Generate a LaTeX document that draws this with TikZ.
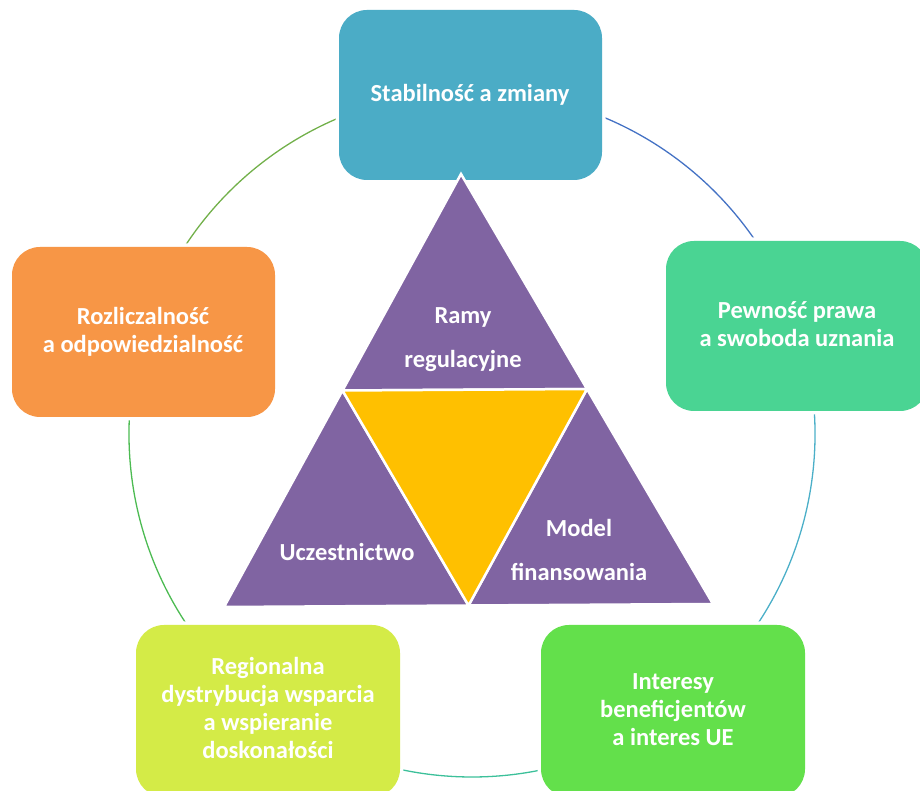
\documentclass[tikz,border=0pt]{standalone}
\usepackage{fontspec}
\usetikzlibrary{calc}
\setmainfont{Carlito}
\definecolor{cTop}{HTML}{4BACC6}
\definecolor{cRight}{HTML}{4AD493}
\definecolor{cBR}{HTML}{63E04B}
\definecolor{cBL}{HTML}{D4EB47}
\definecolor{cLeft}{HTML}{F79646}
\definecolor{cPurple}{HTML}{8064A2}
\definecolor{cYellow}{HTML}{FFC000}
\definecolor{aA}{HTML}{4472C4}
\definecolor{aB}{HTML}{4BAFC8}
\definecolor{aC}{HTML}{3CC09A}
\definecolor{aD}{HTML}{4CBB52}
\definecolor{aE}{HTML}{72B04A}
\tikzset{
  x=1pt, y=1pt,
  boxtxt/.style={text=white, font=\bfseries\fontsize{24.5}{28}\selectfont, align=center},
  tritxt/.style={text=white, font=\bfseries\fontsize{24.5}{28}\selectfont, align=center},
  roundbox/.style={rounded corners=28pt, preaction={draw=white, line width=7pt}},
  tri/.style={draw=white, line width=2.5pt, line join=miter},
  ring/.style={line width=1.3pt},
}
\begin{document}
\begin{tikzpicture}
\useasboundingbox (0,0) rectangle (920,791);
\clip (0,0) rectangle (920,791);
% ring
\coordinate (c) at (472,357);
\def\R{343}
\draw[ring, aA] ($(c)+(90:\R)$) arc[start angle=90, end angle=18, radius=\R];
\draw[ring, aB] ($(c)+(18:\R)$) arc[start angle=18, end angle=-54, radius=\R];
\draw[ring, aC] ($(c)+(-54:\R)$) arc[start angle=-54, end angle=-126, radius=\R];
\draw[ring, aD] ($(c)+(-126:\R)$) arc[start angle=-126, end angle=-198, radius=\R];
\draw[ring, aE] ($(c)+(162:\R)$) arc[start angle=162, end angle=90, radius=\R];
% boxes
\fill[roundbox, cTop] (339,611) rectangle (602,781);
\fill[roundbox, cRight] (666,380) rectangle (928,550);
\fill[roundbox, cBR] (541,-6) rectangle (805,166);
\fill[roundbox, cBL] (136,-6) rectangle (400,166);
\fill[roundbox, cLeft] (12,374) rectangle (275,544);
\node[boxtxt] (top) at (470,696) {Stabilność a zmiany};
\node[boxtxt] (right) at (797,467) {Pewność prawa\\a swoboda uznania};
\node[boxtxt] (bright) at (673,81) {Interesy\\beneficjentów\\a interes UE};
\node[boxtxt] (bleft) at (268,83) {Regionalna\\dystrybucja wsparcia\\a wspieranie\\doskonałości};
\node[boxtxt] (left) at (143,459) {Rozliczalność\\a odpowiedzialność};
% triangles
\coordinate (A) at (461,617);
\coordinate (B) at (224,184);
\coordinate (C) at (713,187);
\coordinate (AB) at (342.5,400.5);
\coordinate (AC) at (587,402);
\coordinate (BC) at (468.5,185.5);
\filldraw[tri, fill=cPurple] (A) -- (AB) -- (AC) -- cycle;
\filldraw[tri, fill=cPurple] (AB) -- (B) -- (BC) -- cycle;
\filldraw[tri, fill=cPurple] (AC) -- (BC) -- (C) -- cycle;
\filldraw[tri, fill=cYellow] (AB) -- (AC) -- (BC) -- cycle;
\node[tritxt] (ramy) at (463,451) {Ramy\\[16pt]regulacyjne};
\node[tritxt] (ucz) at (347,239) {Uczestnictwo};
\node[tritxt] (model) at (579,241) {Model\\[16pt]finansowania};
\end{tikzpicture}
\end{document}
